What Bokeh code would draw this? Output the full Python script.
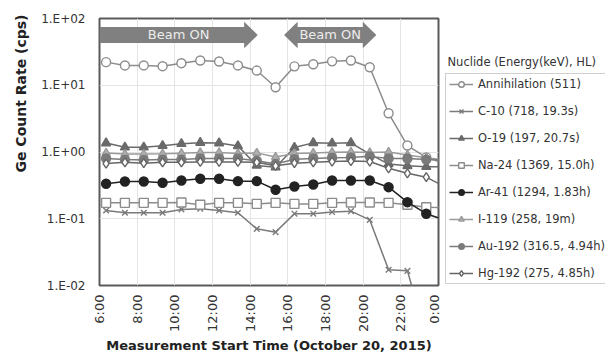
import math

from bokeh.core.properties import value
from bokeh.embed import file_html
from bokeh.layouts import row
from bokeh.models import FixedTicker, Label, Legend, LegendItem, Range1d, Title
from bokeh.plotting import figure
from bokeh.resources import INLINE

# Measurement start times (hours of the day, past midnight = 24+)
hours = [6.35, 7.35, 8.35, 9.35, 10.35, 11.35, 12.35, 13.35, 14.35, 15.35,
         16.35, 17.35, 18.35, 19.35, 20.35, 21.35, 22.35, 23.35, 24.35]

# Count rates (cps) per nuclide
annihilation = [22.2, 19.8, 19.8, 19.3, 21.4, 23.5, 22.7, 19.8, 16.6, 9.35,
                19.2, 20.6, 22.8, 23.5, 18.6, 3.8, 1.25, 0.83, 0.67]
c10 = [0.133, 0.123, 0.123, 0.123, 0.138, 0.141, 0.133, 0.123, 0.0706, 0.063,
       0.119, 0.119, 0.126, 0.130, 0.096, 0.0172, 0.0166, 0.0017, float("nan")]
o19 = [1.36, 1.18, 1.18, 1.24, 1.33, 1.38, 1.36, 1.23, 0.63, 0.59,
       1.17, 1.37, 1.35, 1.37, 0.93, 0.66, 0.62, 0.60, 0.60]
na24 = [0.173, 0.173, 0.173, 0.173, 0.175, 0.162, 0.173, 0.173, 0.167, 0.173,
        0.167, 0.167, 0.173, 0.175, 0.175, 0.173, 0.162, 0.149, 0.147]
ar41 = [0.334, 0.362, 0.362, 0.346, 0.374, 0.397, 0.397, 0.366, 0.366, 0.272,
        0.304, 0.326, 0.374, 0.374, 0.374, 0.297, 0.177, 0.119, 0.095]
i119 = [0.97, 0.93, 0.93, 0.94, 0.96, 0.98, 0.98, 0.95, 0.97, 0.84,
        0.95, 0.97, 0.99, 1.00, 0.98, 1.00, 0.90, 0.82, 0.76]
au192 = [0.80, 0.77, 0.76, 0.77, 0.77, 0.80, 0.80, 0.80, 0.74, 0.66,
         0.78, 0.80, 0.82, 0.83, 0.86, 0.80, 0.80, 0.77, 0.75]
hg192 = [0.67, 0.70, 0.68, 0.70, 0.70, 0.71, 0.71, 0.71, 0.70, 0.62,
         0.68, 0.70, 0.72, 0.73, 0.72, 0.57, 0.48, 0.42, 0.30]

labels = ["Annihilation (511)", "C-10 (718, 19.3s)", "O-19 (197, 20.7s)",
          "Na-24 (1369, 15.0h)", "Ar-41 (1294, 1.83h)", "I-119 (258, 19m)",
          "Au-192 (316.5, 4.94h)", "Hg-192 (275, 4.85h)"]
legend_title = "Nuclide (Energy(keV), HL)"

x_ticks = [6, 8, 10, 12, 14, 16, 18, 20, 22, 24]
x_tick_labels = ["6:00", "8:00", "10:00", "12:00", "14:00", "16:00",
                 "18:00", "20:00", "22:00", "0:00"]
y_ticks = [0.01, 0.1, 1, 10, 100]
y_tick_labels = ["1.E-02", "1.E-01", "1.E+00", "1.E+01", "1.E+02"]

# Beam-on periods (start hour, end hour, arrow heads)
beam_periods = [(6.0, 14.4, "right"), (15.8, 20.7, "both")]
beam_text = "Beam ON"

FONT = "DejaVu Sans"

p = figure(width=441, height=356, output_backend="svg", toolbar_location=None,
           y_axis_type="log", x_range=Range1d(6, 24), y_range=Range1d(0.01, 100),
           min_border_left=99, min_border_right=3, min_border_top=18,
           min_border_bottom=71)
p.background_fill_color = "white"
p.border_fill_color = "white"
p.outline_line_color = "#5a5a5a"
p.outline_line_width = 2

# axes
p.xaxis.ticker = FixedTicker(ticks=x_ticks)
p.xaxis.major_label_overrides = dict(zip(x_ticks, x_tick_labels))
p.xaxis.major_label_orientation = math.pi / 2
p.yaxis.ticker = FixedTicker(ticks=y_ticks)
p.yaxis.major_label_overrides = dict(zip(y_ticks, y_tick_labels))
for ax in (p.xaxis, p.yaxis):
    ax.axis_line_color = None
    ax.major_tick_line_color = None
    ax.minor_tick_line_color = None
    ax.major_tick_out = 0
    ax.major_tick_in = 0
    ax.minor_tick_out = 0
    ax.major_label_text_font = FONT
    ax.major_label_text_color = "#333333"
    ax.axis_label_text_font = FONT
    ax.axis_label_text_font_size = "13px"
    ax.axis_label_text_font_style = "bold"
    ax.axis_label_text_color = "#222222"
p.xaxis.major_label_text_font_size = "13px"
p.yaxis.major_label_text_font_size = "12px"
p.xaxis.major_label_standoff = 9
p.yaxis.major_label_standoff = 14
p.xaxis.axis_label = "Measurement Start Time (October 20, 2015)"
p.xaxis.axis_label_standoff = 3

# y-axis title, set toward the top of the frame
p.add_layout(Title(text="Ge Count Rate (cps)", align="right", offset=-4,
                   standoff=20, text_font=FONT, text_font_size="14px",
                   text_font_style="bold", text_color="#222222"), "left")

p.xgrid.grid_line_color = "#e4e4e4"
p.ygrid.grid_line_color = "#e4e4e4"

# beam-on block arrows
yc = 1.753
body_h, head_h, head_len = 0.12, 0.20, 0.72
arrow_xs, arrow_ys, text_x = [], [], []
for x0, x1, heads in beam_periods:
    bt, bb = 10 ** (yc + body_h), 10 ** (yc - body_h)
    ht, hb = 10 ** (yc + head_h), 10 ** (yc - head_h)
    c = 10 ** yc
    if heads == "right":
        xs = [x0, x1 - head_len, x1 - head_len, x1, x1 - head_len, x1 - head_len, x0]
        ys = [bt, bt, ht, c, hb, bb, bb]
    else:
        xs = [x0, x0 + head_len, x0 + head_len, x1 - head_len, x1 - head_len, x1,
              x1 - head_len, x1 - head_len, x0 + head_len, x0 + head_len]
        ys = [c, ht, bt, bt, ht, c, hb, bb, bb, hb]
    arrow_xs.append(xs)
    arrow_ys.append(ys)
    text_x.append((x0 + x1) / 2)
p.patches(arrow_xs, arrow_ys, fill_color="#808080", line_color=None)
p.text(text_x, [10 ** yc] * len(text_x), text=[beam_text] * len(text_x),
       text_font=value(FONT), text_font_size="13px", text_color="#ececec",
       text_align="center", text_baseline="middle")

styles = [
    (annihilation, "circle", "#8c8c8c", "white", 9),
    (c10, "x", "#7a7a7a", "#7a7a7a", 8),
    (o19, "triangle", "#6a6a6a", "#6a6a6a", 9),
    (na24, "square", "#8c8c8c", "white", 9),
    (ar41, "circle", "#222222", "#222222", 9),
    (i119, "triangle", "#9a9a9a", "#b0b0b0", 8),
    (au192, "circle", "#7a7a7a", "#7a7a7a", 9),
    (hg192, "diamond", "#666666", "white", 9),
]

# legend panel: same series, drawn outside its visible range, only for the key
pl = figure(width=164, height=356, output_backend="svg", toolbar_location=None,
            x_range=Range1d(0, 1), y_range=Range1d(0, 1),
            x_axis_location=None, y_axis_location=None, min_border=0)
pl.outline_line_color = None
pl.grid.grid_line_color = None
pl.background_fill_color = "white"
pl.border_fill_color = "white"

items = []
for (series, marker, lc, fc, size), label in zip(styles, labels):
    p.line(hours, series, line_color=lc, line_width=1.5)
    p.scatter(hours, series, marker=marker, size=size,
              line_color=lc, fill_color=fc, line_width=1.4)
    k_line = pl.line(hours, series, line_color=lc, line_width=1.5)
    k_mark = pl.scatter(hours, series, marker=marker, size=size,
                        line_color=lc, fill_color=fc, line_width=1.4)
    items.append(LegendItem(label=label, renderers=[k_line, k_mark]))

legend = Legend(items=items, location=(4, 1), padding=3, spacing=13,
                label_height=14, glyph_height=14, glyph_width=24,
                label_standoff=5, border_line_color="#a0a0a0",
                border_line_width=1, background_fill_color="white",
                background_fill_alpha=1.0, label_text_font=FONT,
                label_text_font_size="11.5px", label_text_color="#333333",
                margin=0)
pl.add_layout(legend)
pl.add_layout(Label(x=6, y=224, x_units="screen", y_units="screen",
                    text=legend_title, text_font=FONT,
                    text_font_size="11.5px", text_color="#333333",
                    text_baseline="middle"))

open("out.html", "w").write(file_html(row(p, pl), INLINE))
